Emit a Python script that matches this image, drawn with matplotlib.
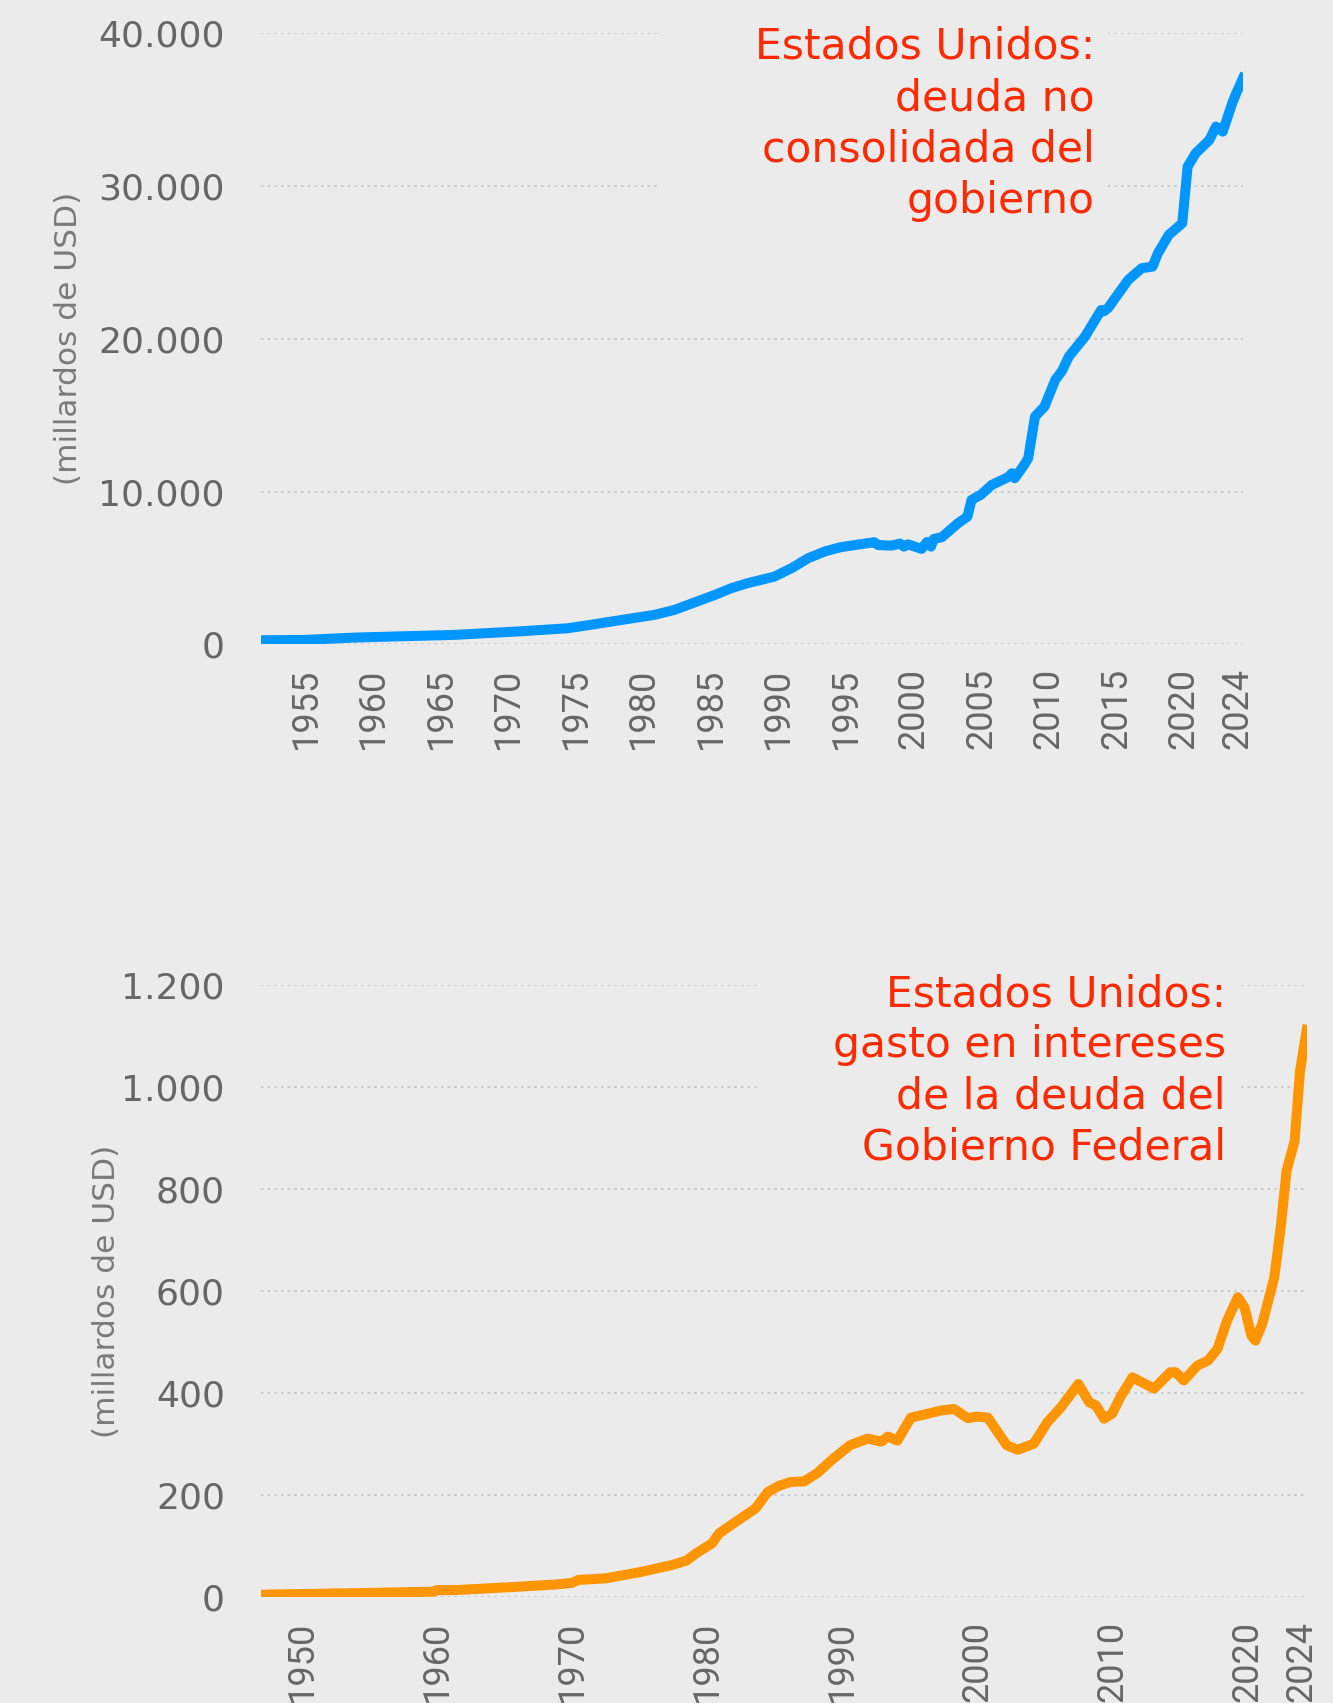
import matplotlib
matplotlib.use("Agg")
import matplotlib.pyplot as plt
from matplotlib.patches import Rectangle
from matplotlib.ticker import FuncFormatter

# deuda no consolidada (miles de millones USD)
deuda_anos = [1951.7, 1954.9, 1958.6, 1962.0, 1966.0, 1971.0, 1974.4, 1975.9, 1978.4,
              1980.8, 1982.3, 1983.3, 1985.3, 1986.5, 1987.7, 1989.7, 1991.0, 1992.2,
              1993.5, 1994.6, 1996.0, 1997.1, 1997.4, 1998.4, 1999.0, 1999.3, 1999.6,
              2000.6, 2001.0, 2001.3, 2001.5, 2002.1, 2003.3, 2004.0, 2004.3, 2005.0,
              2005.8, 2007.0, 2007.3, 2007.5, 2008.2, 2008.5, 2009.0, 2009.7, 2010.5,
              2011.0, 2011.5, 2012.7, 2013.9, 2014.1, 2014.4, 2015.9, 2016.9, 2017.7,
              2018.1, 2018.9, 2019.9, 2020.3, 2020.9, 2021.9, 2022.4, 2022.9, 2023.6,
              2023.9, 2024.4]
deuda = [275, 294, 447, 530, 622, 862, 1058, 1254, 1603,
         1930, 2258, 2585, 3240, 3676, 4003, 4437, 5000, 5641,
         6100, 6360, 6550, 6688, 6500, 6466, 6600, 6400, 6550,
         6250, 6700, 6400, 6900, 7015, 7932, 8364, 9457, 9800,
         10438, 10943, 11200, 10877, 11747, 12200, 14910, 15562, 17310,
         17900, 18835, 20144, 21891, 21800, 22000, 23855, 24620, 24725,
         25600, 26800, 27565, 31270, 32146, 33000, 33890, 33560, 35418,
         36073, 37055]

# gasto en intereses (miles de millones USD)
int_anos = [1947.0, 1954.0, 1959.8, 1960.0, 1961.4, 1966.3, 1968.8, 1970.0, 1970.5,
            1972.5, 1975.0, 1977.4, 1978.5, 1979.2, 1980.4, 1980.9, 1981.6, 1982.6,
            1983.6, 1984.5, 1985.3, 1986.2, 1987.2, 1988.2, 1989.2, 1990.6, 1991.9,
            1992.9, 1993.4, 1994.1, 1995.1, 1996.4, 1997.3, 1998.3, 1999.3, 2000.0,
            2000.8, 2001.8, 2002.2, 2003.0, 2004.2, 2005.2, 2006.2, 2007.5, 2008.3,
            2008.8, 2009.4, 2010.0, 2010.6, 2011.5, 2013.1, 2014.3, 2014.7, 2015.3,
            2016.3, 2017.1, 2017.8, 2018.5, 2019.3, 2019.8, 2020.3, 2020.6, 2021.1,
            2022.0, 2022.5, 2022.9, 2023.5, 2023.9, 2024.4]
intereses = [5, 8, 11, 14, 14, 21, 25, 28, 34,
             37, 49, 63, 72, 86, 106, 125, 138, 156,
             174, 206, 218, 226, 227, 244, 268, 298, 311,
             305, 315, 307, 352, 360, 366, 369, 351, 354,
             352, 313, 298, 289, 301, 343, 372, 418, 382,
             376, 350, 360, 392, 431, 409, 441, 441, 425,
             454, 464, 487, 542, 588, 568, 513, 503, 535,
             627, 731, 835, 894, 1031, 1112]

ticks_top = [1955, 1960, 1965, 1970, 1975, 1980, 1985, 1990, 1995, 2000, 2005, 2010, 2015, 2020, 2024]
ticks_bot = [1950, 1960, 1970, 1980, 1990, 2000, 2010, 2020, 2024]

fondo = "#ebebeb"
gris = "#666666"
rojo = "#ff2a00"

fig = plt.figure(figsize=(13.33, 17.03), dpi=100)
fig.patch.set_facecolor(fondo)


def miles(v, pos):
    return f"{int(v):,}".replace(",", ".")


def estilo(ax, yticks, xticks):
    ax.set_facecolor(fondo)
    for s in ax.spines.values():
        s.set_visible(False)
    ax.set_yticks(yticks)
    ax.set_ylim(yticks[0], yticks[-1])
    ax.yaxis.set_major_formatter(FuncFormatter(miles))
    ax.set_xticks(xticks)
    ax.set_xticklabels([str(t) for t in xticks], rotation=90, family="Roboto",
                       fontsize=26, color=gris)
    ax.tick_params(axis="y", length=0, pad=26, labelsize=26, labelcolor=gris)
    ax.tick_params(axis="x", length=0, pad=17)
    ax.grid(axis="y", color="#c4c4c4", linestyle=(0, (1.5, 2.5)), linewidth=1.2, zorder=0)
    ax.grid(axis="x", visible=False)
    ax.set_axisbelow(True)
    ax.set_ylabel("(millardos de USD)", fontsize=22.5, color="#7a7a7a")


# grafico de arriba
ax1 = fig.add_axes([0.1958, 0.6216, 0.7367, 0.3589])
estilo(ax1, [0, 10000, 20000, 30000, 40000], ticks_top)
ax1.plot(deuda_anos, deuda, color="#0096ff", linewidth=7.2, solid_joinstyle="round", zorder=3)
ax1.set_xlim(deuda_anos[0], deuda_anos[-1])
ax1.yaxis.set_label_coords(-0.1817, 0.5)
ax1.add_patch(Rectangle((0.407, 0.66), 0.455, 0.40, transform=ax1.transAxes,
                        facecolor=fondo, edgecolor="none", zorder=1, clip_on=False))
ax1.text(0.849, 1.012, "Estados Unidos:\ndeuda no\nconsolidada del\ngobierno",
         transform=ax1.transAxes, ha="right", va="top", fontsize=30.6, color=rojo,
         linespacing=1.28, zorder=2)

# grafico de abajo
ax2 = fig.add_axes([0.1958, 0.0621, 0.7845, 0.3595])
estilo(ax2, [0, 200, 400, 600, 800, 1000, 1200], ticks_bot)
ax2.plot(int_anos, intereses, color="#ff9500", linewidth=7.2, solid_joinstyle="round", zorder=3)
ax2.set_xlim(int_anos[0], int_anos[-1])
ax2.yaxis.set_label_coords(-0.1343, 0.5)
ax2.add_patch(Rectangle((0.476, 0.68), 0.458, 0.40, transform=ax2.transAxes,
                        facecolor=fondo, edgecolor="none", zorder=1, clip_on=False))
ax2.text(0.9227, 1.0196, "Estados Unidos:\ngasto en intereses\nde la deuda del\nGobierno Federal",
         transform=ax2.transAxes, ha="right", va="top", fontsize=30.6, color=rojo,
         linespacing=1.28, zorder=2)

fig.savefig("out.png", dpi=100, facecolor=fondo)
